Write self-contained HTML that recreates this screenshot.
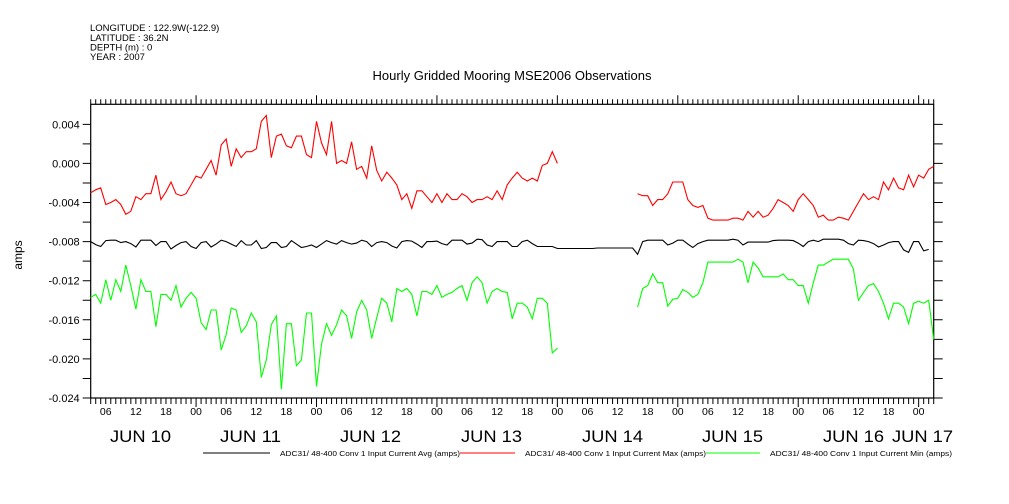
<!DOCTYPE html>
<html><head><meta charset="utf-8"><style>
body{margin:0;background:#fff;width:1009px;height:504px;overflow:hidden}
svg{display:block;font-family:"Liberation Sans",sans-serif}
</style></head><body>
<svg id="chart" width="1009" height="504" viewBox="0 0 1009 504">
<g font-size="9.5" fill="#000">
<text x="90" y="31">LONGITUDE : 122.9W(-122.9)</text>
<text x="90" y="41">LATITUDE : 36.2N</text>
<text x="90" y="50.5">DEPTH (m) : 0</text>
<text x="90" y="60">YEAR : 2007</text>
</g>
<text x="512" y="80" font-size="13" text-anchor="middle">Hourly Gridded Mooring MSE2006 Observations</text>
<text x="0" y="0" font-size="12" text-anchor="middle" transform="translate(22,255) rotate(-90)">amps</text>
<g id="axes"></g>
<g id="series"></g>
<g font-size="7">
<line x1="203" y1="453" x2="270" y2="453" stroke="#000" stroke-width="1"/>
<text x="280" y="456" textLength="180" lengthAdjust="spacingAndGlyphs">ADC31/ 48-400 Conv 1 Input Current  Avg (amps)</text>
<line x1="460" y1="453" x2="515" y2="453" stroke="#f00" stroke-width="1"/>
<text x="525" y="456" textLength="181" lengthAdjust="spacingAndGlyphs">ADC31/ 48-400 Conv 1 Input Current  Max (amps)</text>
<line x1="706" y1="453" x2="760" y2="453" stroke="#0f0" stroke-width="1"/>
<text x="770" y="456" textLength="182" lengthAdjust="spacingAndGlyphs">ADC31/ 48-400 Conv 1 Input Current  Min (amps)</text>
</g>
</svg>
<script>
// hours since Jun 10 00:00
const startHour1 = 3;
const maxSeg1 = [-3.0,-2.7,-2.5,-4.2,-4.0,-3.7,-4.2,-5.2,-4.9,-3.4,-3.7,-3.1,-3.1,-1.2,-3.7,-2.9,-1.9,-3.1,-3.3,-3.1,-2.2,-1.3,-1.5,-0.6,0.3,-1.2,1.9,2.5,-0.3,1.5,0.6,1.2,1.2,1.5,4.3,4.9,0.6,2.8,3.0,1.8,1.6,2.8,2.8,0.9,0.6,4.3,2.1,0.9,4.3,0.0,0.3,0.0,2.2,-0.6,-0.3,-1.5,1.8,-0.7,-1.8,-0.9,-1.5,-2.2,-3.7,-3.1,-4.6,-2.8,-2.8,-3.4,-4.0,-3.1,-4.0,-3.1,-3.7,-3.7,-3.1,-3.4,-4.0,-3.7,-3.7,-3.4,-3.7,-2.8,-3.7,-2.2,-1.5,-0.9,-1.5,-1.8,-1.5,-1.8,-0.2,0.0,1.2,0.0];
const minSeg1 = [-13.7,-13.4,-14.3,-11.9,-14.0,-11.9,-13.1,-10.4,-12.5,-14.9,-11.9,-13.1,-13.1,-16.7,-13.4,-13.4,-14.0,-12.5,-14.7,-13.8,-13.2,-13.8,-16.3,-17.0,-15.0,-15.0,-19.1,-17.5,-14.8,-15.0,-17.3,-16.6,-15.3,-16.2,-21.9,-20.1,-16.5,-15.6,-23.1,-16.4,-16.4,-20.7,-20.1,-15.3,-15.3,-22.8,-18.5,-16.4,-17.6,-16.5,-15.0,-15.6,-17.9,-15.2,-14.0,-15.0,-17.9,-15.8,-13.8,-14.3,-16.2,-12.8,-13.1,-12.8,-13.4,-15.6,-13.1,-13.1,-13.4,-12.5,-13.7,-13.4,-13.2,-12.8,-12.5,-14.0,-12.2,-11.6,-12.2,-14.3,-13.1,-12.8,-13.1,-13.2,-15.9,-14.3,-14.3,-14.7,-15.9,-13.8,-13.8,-14.3,-19.4,-18.9];
const startHour2 = 112;
const maxSeg2 = [-3.1,-3.3,-3.3,-4.3,-3.7,-3.7,-3.1,-1.9,-1.9,-1.9,-3.7,-4.3,-4.5,-4.3,-5.6,-5.8,-5.8,-5.8,-5.8,-5.6,-5.6,-5.8,-4.9,-5.5,-4.9,-5.5,-5.3,-4.6,-3.7,-4.0,-4.3,-4.9,-3.7,-3.1,-3.7,-4.3,-5.5,-5.3,-5.8,-5.8,-5.5,-5.6,-5.8,-4.9,-4.0,-3.1,-3.7,-3.4,-3.7,-1.9,-2.7,-1.5,-2.5,-2.7,-1.2,-2.4,-1.2,-1.5,-0.6,-0.3];
const minSeg2 = [-14.7,-12.8,-12.5,-11.3,-12.2,-12.2,-14.6,-13.9,-13.8,-12.9,-13.2,-13.7,-13.4,-12.2,-10.1,-10.1,-10.1,-10.1,-10.1,-10.1,-9.8,-10.1,-12.2,-10.1,-10.7,-11.6,-11.6,-11.6,-11.6,-11.3,-11.9,-11.9,-12.5,-12.5,-14.3,-12.2,-10.4,-10.4,-10.1,-9.8,-9.8,-9.8,-9.8,-10.8,-14.0,-13.2,-12.5,-12.3,-13.1,-14.3,-15.9,-14.3,-14.3,-14.7,-16.4,-14.3,-14.1,-14.3,-14.0,-18.0];
const avgStartHour = 3;
const avgVals = [-8.0,-8.3,-8.5,-7.9,-7.85,-7.85,-8.1,-8.0,-8.2,-8.55,-7.85,-7.85,-7.85,-8.4,-8.0,-8.0,-8.75,-8.4,-8.1,-8.0,-8.5,-8.7,-8.1,-8.0,-8.55,-8.25,-7.85,-8.0,-8.25,-8.5,-7.9,-8.35,-8.35,-7.9,-8.7,-8.6,-8.1,-8.1,-8.6,-8.5,-7.9,-8.25,-8.6,-8.5,-8.35,-8.6,-8.25,-7.9,-8.1,-8.25,-7.9,-8.1,-8.25,-8.15,-7.85,-8.0,-8.5,-8.1,-8.0,-8.1,-8.45,-8.65,-8.0,-7.9,-7.95,-8.25,-8.6,-8.0,-8.0,-7.95,-8.2,-8.35,-7.85,-7.85,-7.85,-8.25,-8.15,-7.75,-7.8,-8.35,-8.5,-8.0,-8.0,-8.0,-8.5,-8.5,-8.0,-7.85,-8.2,-8.5,-8.5,-8.5,-8.5,-8.7,-8.7,-8.7,-8.7,-8.7,-8.7,-8.7,-8.7,-8.65,-8.65,-8.65,-8.65,-8.65,-8.65,-8.65,-8.65,-9.3,-8.0,-7.85,-7.85,-7.85,-7.85,-8.35,-8.15,-7.85,-7.85,-8.25,-8.6,-8.2,-8.0,-7.85,-7.85,-7.85,-7.85,-7.85,-7.75,-7.85,-8.35,-8.05,-8.05,-8.05,-8.05,-8.05,-7.9,-7.85,-7.85,-7.85,-7.9,-8.15,-8.5,-8.0,-7.85,-8.0,-7.75,-7.75,-7.75,-7.75,-7.85,-8.2,-8.35,-7.85,-7.9,-8.0,-8.2,-8.55,-8.35,-8.1,-8.0,-8.0,-8.85,-9.1,-8.0,-8.0,-8.95,-8.8];
const yTickVals = [-0.024,-0.020,-0.016,-0.012,-0.008,-0.004,0.000,0.004];
const yTickLabels = ["-0.024","-0.020","-0.016","-0.012","-0.008","-0.004","0.000","0.004"];
const dayLabels = ["JUN 10","JUN 11","JUN 12","JUN 13","JUN 14","JUN 15","JUN 16","JUN 17"];
const dayLabelX = [110,220,340,461,582,702,823,892];

const NS="http://www.w3.org/2000/svg";
const L=90.7,R=933.7,T=104.3,B=398;
const X0=3,X1=171,Y0=-0.024,Y1=0.00605;
function xs(h){return L+(h-X0)/(X1-X0)*(R-L);}
function ys(v){return B-(v-Y0)/(Y1-Y0)*(B-T);}
function mk(tag,attrs,parent){const e=document.createElementNS(NS,tag);for(const k in attrs)e.setAttribute(k,attrs[k]);parent.appendChild(e);return e;}
const ax=document.getElementById('axes');
const frame=mk('rect',{x:L,y:T,width:R-L,height:B-T,fill:'none',stroke:'#000','stroke-width':1.2},ax);


let d='';
for(let h=X0;h<=X1;h++){const x=xs(h);const maj=(h%24===0);
 d+=`M${x},${T}V${T-(maj?9:5)}M${x},${B}V${B+(maj?9:6)}`;}
yTickVals.forEach((v,i)=>{const y=ys(v);d+=`M${L},${y}H${L-8}M${R},${y}H${R+9}`;});
for(let v=-0.022;v<0.005;v+=0.004){const y=ys(v);d+=`M${L},${y}H${L-8}M${R},${y}H${R+9}`;}
const tk=mk('path',{d:d,stroke:'#000','stroke-width':1,fill:'none'},ax);


yTickVals.forEach((v,i)=>{const t=mk('text',{x:L-11,y:ys(v)+4,'font-size':11,'text-anchor':'end'},ax);t.textContent=yTickLabels[i];
 
 });
for(let h=6;h<=X1;h+=6){const t=mk('text',{x:xs(h),y:415,'font-size':10.5,'text-anchor':'middle'},ax);t.textContent=String(h%24).padStart(2,'0');
 
 }
dayLabels.forEach((s,i)=>{const t=mk('text',{x:dayLabelX[i],y:442,'font-size':17,textLength:61,lengthAdjust:'spacingAndGlyphs'},ax);t.textContent=s;
 
 });
const sg=document.getElementById('series');
function line(vals,start,color,name){const pts=vals.map((v,i)=>xs(start+i).toFixed(1)+','+ys(v/1000).toFixed(1)).join(' ');
 const p=mk('polyline',{points:pts,fill:'none',stroke:color,'stroke-width':1.1},sg);
 
 }
line(avgVals,avgStartHour,'#000','avg-line');
line(maxSeg1,startHour1,'#f00','max-line-1');
line(maxSeg2,startHour2,'#f00','max-line-2');
line(minSeg1,startHour1,'#0f0','min-line-1');
line(minSeg2,startHour2,'#0f0','min-line-2');
</script>
</body></html>
